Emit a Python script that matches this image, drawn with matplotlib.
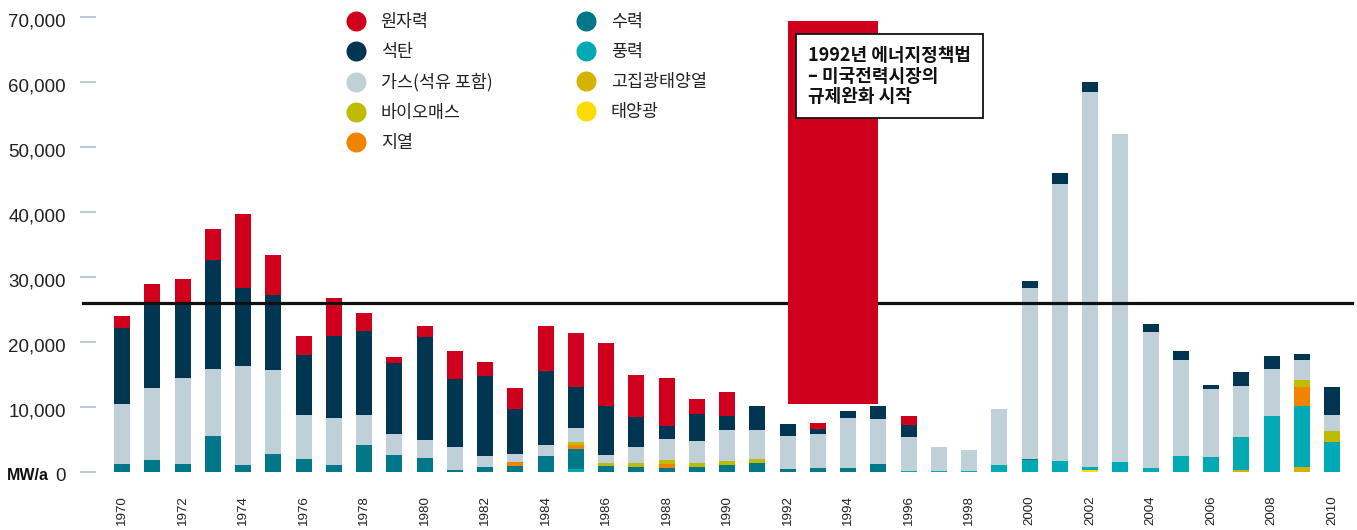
import numpy as np
import matplotlib.pyplot as plt
from matplotlib.lines import Line2D
from matplotlib.patches import Rectangle
from matplotlib.transforms import blended_transform_factory, ScaledTranslation

plt.rcParams['font.family'] = ['Noto Sans CJK KR', 'DejaVu Sans']

years = list(range(1970, 2011))

# annual capacity additions by source, MW
nuclear = [1930, 2950, 3700, 4640, 11420, 6210, 2920, 5840, 2780, 930,
           1690, 4310, 2110, 3230, 6930, 8320, 9700, 6470, 7370, 2310,
           3640, 0, 0, 930, 0, 0, 1390, 0, 0, 0,
           0, 0, 0, 0, 0, 0, 0, 0, 0, 0,
           0]
coal = [11740, 13060, 11550, 16850, 12050, 11580, 9290, 12680, 12940, 10940,
        15970, 10480, 12380, 6940, 11400, 6320, 7550, 4620, 2030, 4160,
        2210, 3700, 1850, 770, 1080, 2010, 1850, 0, 0, 0,
        1080, 1640, 1550, 0, 1230, 1390, 620, 2150, 2000, 930,
        4310]
gas = [9180, 11110, 13300, 10330, 15290, 12940, 6780, 7250, 4620, 3230,
       2670, 3540, 1690, 1230, 1700, 2160, 1230, 2460, 3230, 3380,
       4780, 4470, 5080, 5235, 7705, 6930, 5190, 3650, 3190, 8620,
       26340, 42730, 57720, 50560, 20955, 14790, 10470, 7860, 7240, 3080,
       2470]
biomass = [0, 0, 0, 0, 0, 0, 0, 0, 0, 0,
           0, 0, 0, 0, 0, 460, 470, 620, 620, 620,
           610, 610, 0, 0, 0, 0, 0, 0, 0, 0,
           0, 0, 0, 0, 0, 0, 0, 0, 0, 1080,
           1690]
geothermal = [0, 0, 0, 0, 0, 0, 0, 0, 0, 0,
              0, 0, 0, 620, 0, 620, 0, 0, 615, 0,
              0, 0, 0, 0, 0, 0, 0, 0, 0, 0,
              0, 0, 0, 0, 0, 0, 0, 0, 0, 2920,
              0]
hydro = [1150, 1830, 1150, 5480, 990, 2710, 1930, 990, 4110, 2570,
         2110, 260, 720, 870, 2410, 3030, 870, 720, 565, 720,
         1030, 1340, 410, 565, 565, 1180, 0, 0, 0, 0,
         150, 0, 0, 0, 0, 0, 0, 0, 0, 0,
         0]
wind = [0, 0, 0, 0, 0, 0, 0, 0, 0, 0,
        0, 0, 0, 0, 0, 460, 0, 0, 0, 0,
        0, 0, 0, 0, 0, 0, 150, 150, 150, 1030,
        1800, 1640, 570, 1490, 565, 2410, 2260, 5090, 8580, 9500,
        4570]
csp = [0] * 37 + [250, 0, 620, 0]
solar_pv = [0] * 32 + [180] + [0] * 8

labels = ['원자력', '석탄', '가스(석유 포함)', '바이오매스', '지열',
          '수력', '풍력', '고집광태양열', '태양광']
colors = ['#D0001C', '#003652', '#C0D0D8', '#BDBC00', '#F08300',
          '#00788A', '#00AAB5', '#D4B200', '#FADC00']
values = [nuclear, coal, gas, biomass, geothermal, hydro, wind, csp, solar_pv]

# stacked from the bottom up
stack_order = [8, 7, 6, 5, 4, 3, 2, 1, 0]

reference_level = 26000
policy_start, policy_end = 1992, 1995
policy_low, policy_high = 10450, 69500

W, H = 1357, 530
fig = plt.figure(figsize=(W / 100, H / 100), dpi=100)
ax = fig.add_axes([80 / W, 1 - 471.5 / H, 1272 / W, (471.5 - 17.3) / H])

bottom = np.zeros(len(years))
for i in stack_order:
    v = np.array(values[i], dtype=float)
    ax.bar(years, v, width=0.53, bottom=bottom, color=colors[i], linewidth=0, zorder=2)
    bottom += v

ax.set_xlim(1968.61, 2010.66)
ax.set_ylim(0, 70000)

ax.axhline(reference_level, xmin=3 / 1272, xmax=1, color='#111111', lw=2.3,
           zorder=3, clip_on=False)
ax.add_patch(Rectangle((policy_start, policy_low), policy_end - policy_start,
                       policy_high - policy_low, facecolor=colors[0], lw=0, zorder=4))

fig.text(808 / W, 1 - 46 / H, '1992년 에너지정책법\n– 미국전력시장의\n규제완화 시작',
         ha='left', va='top', fontsize=13, fontweight='bold', color='#111111',
         linespacing=1.1, zorder=6,
         bbox=dict(boxstyle='square,pad=0.66', facecolor='white', edgecolor='#111111', lw=1.3))

for s in ax.spines.values():
    s.set_visible(False)

# y labels sit a few pixels below their tick marks
nudge = ScaledTranslation(0, -3 / 100, fig.dpi_scale_trans)

yt = list(range(0, 70001, 10000))
ax.set_yticks(yt)
ax.set_yticklabels([f'{v:,}' for v in yt], fontsize=13.5, family='Liberation Sans',
                   color='#222222')
ax.tick_params(axis='y', direction='in', length=11.5, width=1.3, color='#B4C4D6', pad=10.3)
for lab in ax.get_yticklabels():
    lab.set_transform(lab.get_transform() + nudge)

xt = years[::2]
ax.set_xticks(xt)
ax.set_xticklabels([str(y) for y in xt], rotation=90, fontsize=9.6,
                   family='Liberation Sans', color='#222222')
ax.tick_params(axis='x', length=0, pad=17)

ax.text(49 / W, 0, 'MW/a',
        transform=blended_transform_factory(fig.transFigure, ax.transData) + nudge,
        ha='right', va='center_baseline', fontsize=11.5, fontweight='bold',
        family='Liberation Sans', color='#111111')

handles = [Line2D([], [], ls='none', marker='o', ms=14.4, mfc=c, mec='none') for c in colors]
leg_kw = dict(loc='upper left', frameon=False, borderpad=0, borderaxespad=0,
              handlelength=1.2, handletextpad=0.8, labelspacing=0.7, fontsize=12.5,
              labelcolor='#222222')
fig.legend(handles[:5], labels[:5], bbox_to_anchor=(346 / W, 1 - 13 / H), **leg_kw)
fig.legend(handles[5:], labels[5:], bbox_to_anchor=(576 / W, 1 - 13 / H), **leg_kw)

fig.savefig('out.png', dpi=100)
